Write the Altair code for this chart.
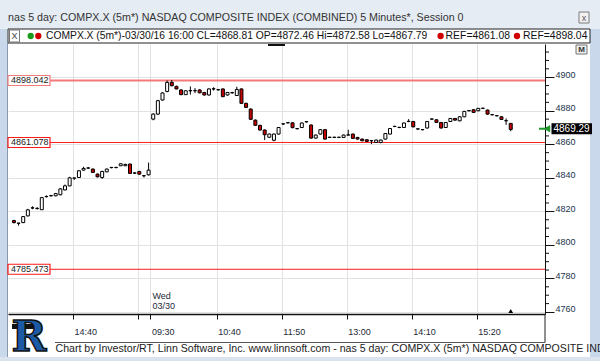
import altair as alt
import pandas as pd

# ---------------- data (5-minute bars) ----------------
# prior session 13:35-16:00 (30 bars)
prev_open = [4814.5, 4812.9, 4813.3, 4817.3, 4822.0, 4821.7, 4821.0, 4828.8, 4829.3, 4829.3,
             4829.9, 4832.8, 4835.2, 4839.8, 4840.2, 4844.6, 4845.8, 4845.2, 4842.2, 4840.2,
             4843.6, 4846.1, 4846.1, 4847.2, 4847.2, 4848.2, 4842.8, 4843.8, 4841.2, 4841.8]
prev_high = [4815.0, 4813.0, 4817.2, 4821.5, 4823.0, 4822.5, 4828.6, 4829.5, 4829.8, 4831.0,
             4833.8, 4836.0, 4840.6, 4840.0, 4844.6, 4846.6, 4846.4, 4845.6, 4842.6, 4844.2,
             4845.6, 4846.5, 4846.6, 4848.6, 4848.4, 4848.5, 4843.4, 4844.2, 4841.3, 4849.1]
prev_low = [4812.8, 4811.5, 4813.0, 4817.0, 4821.3, 4821.0, 4820.8, 4828.2, 4828.8, 4829.0,
            4829.6, 4832.5, 4835.0, 4838.8, 4840.0, 4844.4, 4845.3, 4843.0, 4840.3, 4839.4,
            4843.3, 4845.6, 4845.7, 4847.0, 4847.0, 4842.3, 4842.3, 4841.8, 4840.2, 4841.4]
prev_close = [4813.3, 4813.0, 4816.9, 4820.9, 4822.1, 4821.8, 4828.2, 4828.9, 4829.4, 4830.6,
              4833.4, 4835.2, 4840.0, 4839.9, 4844.2, 4845.6, 4845.9, 4843.2, 4840.6, 4843.8,
              4845.2, 4846.2, 4846.2, 4848.4, 4848.0, 4842.6, 4842.9, 4842.2, 4841.3, 4844.6]

# Wed 03/30 session (78 bars)
wed_open = [4875.0, 4878.0, 4886.4, 4891.5, 4896.9, 4894.5, 4892.4, 4889.6, 4891.9, 4891.9,
            4892.4, 4890.9, 4889.4, 4893.0, 4892.5, 4893.0, 4889.4, 4890.7, 4889.1, 4893.0,
            4884.4, 4881.0, 4874.4, 4871.3, 4868.5, 4864.2, 4862.4, 4866.1, 4872.1, 4872.8,
            4872.8, 4869.3, 4870.0, 4873.4, 4871.5, 4863.7, 4866.1, 4868.7, 4864.1, 4864.1,
            4864.1, 4864.1, 4865.5, 4866.1, 4864.1, 4863.1, 4862.7, 4862.1, 4861.1, 4861.1,
            4863.1, 4866.1, 4870.6, 4870.0, 4870.0, 4873.6, 4873.6, 4869.1, 4868.7, 4869.7,
            4875.0, 4874.6, 4873.0, 4870.0, 4873.6, 4875.4, 4874.0, 4876.4, 4880.0, 4880.6,
            4880.0, 4881.4, 4880.4, 4877.6, 4877.0, 4876.4, 4874.0, 4872.46]
wed_high = [4878.5, 4886.5, 4891.0, 4898.0, 4898.3, 4895.0, 4892.8, 4892.2, 4894.5, 4893.5,
            4892.8, 4891.2, 4893.4, 4894.0, 4893.0, 4893.3, 4891.2, 4891.3, 4894.3, 4893.3,
            4884.8, 4881.4, 4874.8, 4871.6, 4868.8, 4866.4, 4866.4, 4870.3, 4872.5, 4873.2,
            4873.1, 4869.7, 4873.0, 4873.8, 4871.8, 4865.8, 4869.0, 4869.0, 4864.5, 4864.5,
            4864.5, 4865.8, 4868.7, 4866.4, 4864.4, 4863.4, 4863.0, 4862.5, 4862.8, 4862.8,
            4866.7, 4869.7, 4871.0, 4870.4, 4873.0, 4875.0, 4873.9, 4869.5, 4869.1, 4873.9,
            4875.4, 4874.9, 4873.3, 4873.3, 4875.7, 4875.7, 4876.7, 4879.9, 4880.4, 4880.9,
            4881.7, 4881.8, 4880.7, 4878.0, 4877.4, 4876.7, 4875.4, 4872.58]
wed_low = [4874.3, 4877.5, 4886.0, 4891.0, 4894.6, 4892.8, 4889.3, 4889.4, 4889.6, 4890.5,
           4890.4, 4889.0, 4889.0, 4892.0, 4892.0, 4888.1, 4889.0, 4890.2, 4888.8, 4884.0,
           4881.6, 4874.5, 4871.0, 4868.2, 4862.5, 4863.8, 4861.8, 4865.8, 4871.6, 4872.4,
           4869.6, 4868.8, 4869.7, 4872.9, 4863.4, 4863.4, 4865.8, 4862.8, 4863.7, 4863.7,
           4863.7, 4863.8, 4865.2, 4863.2, 4862.8, 4861.8, 4861.4, 4860.1, 4860.8, 4860.6,
           4862.8, 4865.8, 4870.2, 4869.6, 4869.7, 4873.2, 4870.1, 4868.7, 4868.3, 4869.4,
           4874.6, 4872.7, 4869.4, 4869.7, 4873.3, 4874.1, 4873.7, 4876.1, 4879.6, 4878.7,
           4879.7, 4881.0, 4877.7, 4877.2, 4876.6, 4874.5, 4871.6, 4867.79]
wed_close = [4878.0, 4886.0, 4890.6, 4896.9, 4894.9, 4893.0, 4889.6, 4891.9, 4892.0, 4892.0,
             4890.7, 4889.4, 4893.0, 4893.1, 4892.6, 4888.4, 4890.9, 4890.8, 4892.7, 4884.4,
             4882.0, 4874.9, 4871.3, 4868.5, 4865.7, 4866.1, 4866.1, 4870.0, 4872.2, 4872.9,
             4869.9, 4869.4, 4872.7, 4873.5, 4863.7, 4865.5, 4868.7, 4863.1, 4864.2, 4864.2,
             4864.2, 4865.5, 4865.6, 4863.5, 4863.1, 4862.1, 4861.7, 4862.2, 4862.5, 4862.5,
             4866.4, 4869.4, 4870.7, 4870.1, 4872.7, 4873.7, 4870.4, 4869.2, 4868.8, 4873.6,
             4875.1, 4873.0, 4869.7, 4873.0, 4875.4, 4874.4, 4876.4, 4879.6, 4880.1, 4879.0,
             4881.4, 4881.5, 4878.0, 4877.7, 4877.1, 4874.8, 4874.1, 4868.81]

tick_pos = [12.7, 26.7, 29.4, 43.7, 57.7, 71.7, 85.7, 99.7]
tick_text = ["14:40", "", "09:30", "10:40", "11:50", "13:00", "14:10", "15:20"]
day_break = [29.4]
price_ticks = [4760, 4780, 4800, 4820, 4840, 4860, 4880, 4900, 4920]
minor_ticks = [4765, 4770, 4775, 4785, 4790, 4795, 4805, 4810, 4815, 4825, 4830, 4835,
               4845, 4850, 4855, 4865, 4870, 4875, 4885, 4890, 4895, 4905, 4910, 4915]
ref_levels = [4898.042, 4861.078, 4785.473]
ref_text = ["4898.042", "4861.078", "4785.473"]
last_price = [4869.29]

title_text = "nas 5 day: COMPX.X (5m*) NASDAQ COMPOSITE INDEX (COMBINED) 5 Minutes*, Session 0"
legend_text = "COMPX.X (5m*)-03/30/16 16:00 CL=4868.81 OP=4872.46 Hi=4872.58 Lo=4867.79"
ref_legend = ["REF=4861.08", "REF=4898.04"]
footer_text = ("Chart by Investor/RT, Linn Software, Inc. www.linnsoft.com - nas 5 day: "
               "COMPX.X (5m*) NASDAQ COMPOSITE INDEX (COMBINED) 5 Minutes*, Session 0")

# ---------------- tables ----------------
opens = prev_open + wed_open
highs = prev_high + wed_high
lows = prev_low + wed_low
closes = prev_close + wed_close
df = pd.DataFrame({"i": list(range(len(opens))), "open": opens, "high": highs,
                   "low": lows, "close": closes})
df["fill"] = ["white" if c >= o else "#c40000" for o, c in zip(opens, closes)]

refdf = pd.DataFrame({"v": ref_levels, "t": ref_text,
                      "c": ["#f27a7a", "#ff1a1a", "#ff1a1a"], "w": [2, 1, 1]})
one = pd.DataFrame({"a": [0]})

F = "Liberation Sans"
xs = alt.Scale(domain=[-0.2, 113.3], nice=False, zero=False)
ys = alt.Scale(domain=[4758.8, 4919.8], nice=False, zero=False)

label_expr = ("[" + ",".join(repr(t) for t in tick_text) + "][indexof(["
              + ",".join(str(p) for p in tick_pos) + "], datum.value)]")

x_axis = alt.Axis(values=tick_pos, labelExpr=label_expr, grid=True, gridColor="#e2e2e2",
                  domainColor="#111", domainWidth=1.5, tickColor="#111", tickSize=5,
                  labelFont=F, labelFontSize=9, labelColor="#1e2a38", labelAlign="left",
                  labelBaseline="top", labelPadding=8, labelOffset=1, labelFlush=False,
                  labelOverlap=False, title=None)
y_axis = alt.Axis(orient="right", values=price_ticks, format="d", grid=True,
                  gridColor="#e2e2e2", domainColor="#111", tickColor="#111", tickSize=9,
                  labelFont=F, labelFontSize=9, labelColor="#22344e",
                  labelBaseline="alphabetic", labelAlign="left", labelPadding=1,
                  labelFlush=False, labelOverlap=False, title=None)


def X(field):
    return alt.X(field, scale=xs, axis=x_axis)


def Y(field):
    return alt.Y(field, scale=ys, axis=y_axis)


def box(x, x2, y, y2, **kw):
    return alt.Chart(one).mark_rect(**kw).encode(
        x=alt.value(x), x2=alt.value(x2), y=alt.value(y), y2=alt.value(y2))


def label(x, y, text, **kw):
    kw.setdefault("font", F)
    kw.setdefault("align", "left")
    kw.setdefault("baseline", "middle")
    return alt.Chart(one).mark_text(text=text, **kw).encode(x=alt.value(x), y=alt.value(y))


def hline(x, x2, y, **kw):
    return alt.Chart(one).mark_rule(**kw).encode(x=alt.value(x), x2=alt.value(x2), y=alt.value(y))


def vline(x, y, y2, **kw):
    return alt.Chart(one).mark_rule(**kw).encode(x=alt.value(x), y=alt.value(y), y2=alt.value(y2))


layers = []
# invisible layer that carries the axes (first field layer)
layers.append(
    alt.Chart(df).mark_point(opacity=0, size=1).encode(x=X("i:Q"), y=Y("close:Q")))

# window frame
layers += [
    box(-8, 592, -44, -15, color="#e6ecf3"),
    box(-8, -0.5, -15, 317, color="#c9d8ea"),
    box(582, 592, -15, 317, color="#c9d8ea"),
    box(-8, 592, 313, 317, color="#dbe4ee"),
    vline(-0.5, -1, 313, color="#8a9aae"),
]
# title bar
layers += [
    label(0, -26.5, title_text, fontSize=10.7, color="#333333"),
    box(571, 581, -32, -21, fill="#f2f2f2", stroke="#7a7a7a", strokeWidth=1),
    label(576, -26.5, "x", fontSize=9, color="#555", align="center"),
]
# legend strip
layers += [
    box(0, 582, -15, -1, fill="white", stroke="#222", strokeWidth=1),
    box(1.5, 11.5, -14, -2, fill="white", stroke="#777", strokeWidth=1),
    label(6.5, -8, "X", fontSize=9, color="#444", align="center"),
    alt.Chart(one).mark_point(shape="circle", filled=True, size=40, color="#1c9a1c", opacity=1)
    .encode(x=alt.value(22.7), y=alt.value(-8)),
    alt.Chart(one).mark_point(shape="circle", filled=True, size=40, color="#d00000", opacity=1)
    .encode(x=alt.value(30.3), y=alt.value(-8)),
    label(38, -8, legend_text, fontSize=10.3, color="#111"),
    alt.Chart(one).mark_point(shape="circle", filled=True, size=40, color="#d00000", opacity=1)
    .encode(x=alt.value(432.6), y=alt.value(-8)),
    label(437.6, -8, ref_legend[0], fontSize=10.4, color="#111"),
    alt.Chart(one).mark_point(shape="circle", filled=True, size=40, color="#d00000", opacity=1)
    .encode(x=alt.value(509), y=alt.value(-8)),
    label(515, -8, ref_legend[1], fontSize=10.4, color="#111"),
]

# reference lines
layers.append(
    alt.Chart(refdf).mark_rule().encode(
        y=Y("v:Q"),
        color=alt.Color("c:N", scale=None),
        strokeWidth=alt.StrokeWidth("w:Q", scale=None)))

# candles
layers.append(
    alt.Chart(df).mark_rule(color="black", strokeWidth=1).encode(
        x=X("i:Q"), y=Y("low:Q"), y2="high:Q"))
layers.append(
    alt.Chart(df).mark_bar(size=3, stroke="black", strokeWidth=1).encode(
        x=X("i:Q"), y=Y("open:Q"), y2="close:Q",
        fill=alt.Fill("fill:N", scale=None)))

# reference labels
layers.append(
    alt.Chart(refdf).mark_rect(fill="white", yOffset=-5, y2Offset=5, strokeWidth=1.2).encode(
        x=alt.value(0), x2=alt.value(42),
        y=Y("v:Q"), y2="v:Q",
        stroke=alt.Stroke("c:N", scale=None)))
layers.append(
    alt.Chart(refdf).mark_text(align="left", baseline="middle", font=F, fontSize=9,
                               color="#222").encode(
        x=alt.value(3), y=Y("v:Q"), text="t:N"))

# minor ticks on price axis
layers.append(
    alt.Chart(pd.DataFrame({"v": minor_ticks})).mark_rule(color="#111").encode(
        x=alt.value(537), x2=alt.value(541), y=Y("v:Q")))

# day label
wdf = pd.DataFrame({"x": day_break})
layers.append(
    alt.Chart(wdf).mark_text(text="Wed", align="left", baseline="middle", font=F, fontSize=9,
                             color="#1e2a38", dx=2).encode(
        x=X("x:Q"), y=alt.value(252)))
layers.append(
    alt.Chart(wdf).mark_text(text="03/30", align="left", baseline="middle", font=F, fontSize=9,
                             color="#1e2a38", dx=2).encode(
        x=X("x:Q"), y=alt.value(262)))

# last-bar marker at bottom
layers.append(
    alt.Chart(df.tail(1)).mark_point(shape="triangle-up", filled=True, color="black", size=22,
                                     opacity=1).encode(
        x=X("i:Q"), y=alt.value(267)))

# price tag
pdf = pd.DataFrame({"p": last_price, "t": ["%.2f" % last_price[0]]})
layers += [
    alt.Chart(pdf).mark_rule(color="#1f9a2a", strokeWidth=2).encode(
        x=alt.value(531), x2=alt.value(537), y=Y("p:Q")),
    alt.Chart(pdf).mark_point(shape="triangle-left", filled=True, color="#1f9a2a", size=55,
                              opacity=1).encode(
        x=alt.value(539), y=Y("p:Q")),
    alt.Chart(pdf).mark_rect(color="black", yOffset=-5.5, y2Offset=5.5).encode(
        x=alt.value(543.5), x2=alt.value(584), y=Y("p:Q"), y2="p:Q"),
    alt.Chart(pdf).mark_text(align="left", baseline="middle", font=F, fontSize=10,
                             color="white").encode(
        x=alt.value(545.5), y=Y("p:Q"), text="t:N"),
]

# misc chrome
layers += [
    hline(260, 277, 1, color="#111", strokeWidth=2),
    box(568, 579, 1, 10, fill="#eeeeee", stroke="#777", strokeWidth=1),
    label(573.5, 5.8, "M", fontSize=8, fontWeight="bold", color="#333", align="center"),
    vline(537, 270, 298.5, color="#222"),
    hline(47, 537, 298.5, color="#555"),
    # logo
    box(4, 34, 280, 285, color="#111"),
    label(21, 294, "R", font="DejaVu Serif", fontSize=42, fontWeight="bold", color="#1c5aa6",
          stroke="#111", strokeWidth=1.5, align="center"),
    label(47.5, 305, footer_text, fontSize=10.6, color="#222"),
]

chart = alt.layer(*layers).properties(
    width=537, height=270,
    padding={"left": 8, "top": 44, "right": 55, "bottom": 47},
    autosize=alt.AutoSizeParams(type="none"),
    background="white",
).configure_view(stroke=None, fill="white")

chart.save("out.html", embed_options={"renderer": "svg", "actions": False})
